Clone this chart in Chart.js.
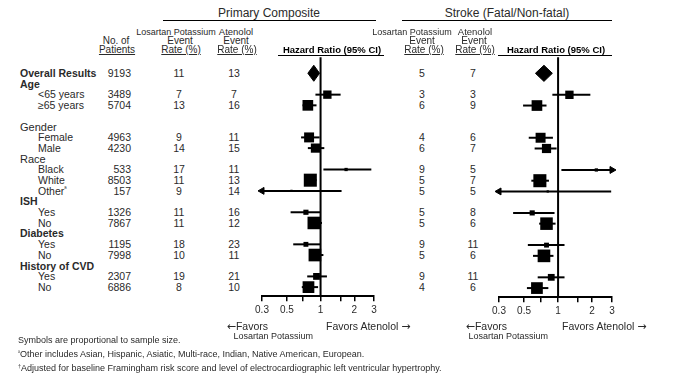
<!DOCTYPE html>
<html><head><meta charset="utf-8">
<script src="https://cdn.jsdelivr.net/npm/chart.js@4.4.1/dist/chart.umd.min.js"></script>
<style>
html,body{margin:0;padding:0;background:#fff;}
#page{position:relative;width:676px;height:387px;overflow:hidden;font-family:"Liberation Sans",Arial,sans-serif;color:#2a2a2a;background:#fff;}
.t{position:absolute;white-space:nowrap;line-height:1;}
.c{transform:translate(-50%,-50%);}
.l{transform:translate(0,-50%);}
.r{transform:translate(-100%,-50%);}
.u{text-decoration:underline;text-underline-offset:1px;}
.rule{position:absolute;height:0;border-top:1.5px solid #000;}
.arr{font-family:"DejaVu Sans",sans-serif;font-size:11px;}
sup{font-size:60%;vertical-align:top;line-height:1;}
</style></head><body><div id="page"></div>
<script>
// ---------------- DATA ----------------
const categories = ["Overall Results","Age","<65 years","≥65 years","","Gender","Female","Male","Race","Black","White","Other","ISH","Yes","No","Diabetes","Yes","No","History of CVD","Yes","No"];
const labelNotes = ["","","","","","","","","","","","ª","","","","","","","","",""];
const headingLevel = [2,2,0,0,0,1,0,0,1,0,0,0,2,0,0,2,0,0,2,0,0];
const patients   = [9193,null,3489,5704,null,null,4963,4230,null,533,8503,157,null,1326,7867,null,1195,7998,null,2307,6886];

const pcLosartan = [11,null,7,13,null,null,9,14,null,17,11,9,null,11,11,null,18,10,null,19,8];
const pcAtenolol = [13,null,7,16,null,null,11,15,null,11,13,14,null,16,12,null,23,11,null,21,10];
const pcHR   = [0.87,null,1.15,0.77,null,null,0.79,0.90,null,1.69,0.81,0.55,null,0.74,0.87,null,0.74,0.89,null,0.92,0.78];
const pcLow  = [0.77,null,0.90,0.69,null,null,0.67,0.77,null,1.06,0.72,0.25,null,0.54,0.78,null,0.57,0.79,null,0.76,0.68];
const pcHigh = [0.98,null,1.51,0.92,null,null,0.98,1.08,null,2.84,0.92,1.54,null,0.99,1.03,null,0.99,1.06,null,1.14,0.95];

const stLosartan = [5,null,3,6,null,null,4,6,null,9,5,5,null,5,5,null,9,5,null,9,4];
const stAtenolol = [7,null,3,9,null,null,6,7,null,5,7,5,null,8,6,null,11,6,null,11,6];
const stHR   = [0.75,null,1.26,0.65,null,null,0.70,0.79,null,2.18,0.69,0.81,null,0.59,0.79,null,0.79,0.75,null,0.87,0.65];
const stLow  = [0.63,null,0.89,0.49,null,null,0.55,0.62,null,1.07,0.58,0.25,null,0.40,0.68,null,0.54,0.60,null,0.66,0.53];
const stHigh = [0.89,null,1.93,0.79,null,null,0.90,0.97,null,3.60,0.83,2.95,null,0.93,0.95,null,1.14,0.91,null,1.14,0.82];

const summaryRow = 0;
const tickValues = [0.3,0.5,0.7,1,1.5,2,3];
const tickLabels = ["0.3","0.5","","1","","2","3"];

// ---------------- LAYOUT ----------------
const X_MIN = 0.3, X_MAX = 3, Y_MIN = -1.5, Y_MAX = 20.85;
const DIAMOND_H = 0.75, SIZE_K = 0.1;
const FONT = '"Liberation Sans", Arial, sans-serif';
const page = document.getElementById('page');

function txt(x, y, html, cls, style) {
  const d = document.createElement('div');
  d.className = 't ' + (cls || 'l');
  d.style.left = x + 'px'; d.style.top = y + 'px';
  if (style) d.style.cssText += style;
  d.innerHTML = html;
  page.appendChild(d);
  return d;
}
function rule(x1, x2, y) {
  const d = document.createElement('div');
  d.className = 'rule';
  d.style.left = x1 + 'px'; d.style.width = (x2 - x1) + 'px'; d.style.top = y + 'px';
  page.appendChild(d);
}

function forestConfig(hr, lo, hi) {
  const datasets = [];
  datasets.push({type:'line', data:[{x:1,y:Y_MIN},{x:1,y:Y_MAX}], borderColor:'#000', borderWidth:2, pointRadius:0, order:3, clip:false});
  hr.forEach((v, i) => {
    if (v == null) return;
    if (i === summaryRow) {
      datasets.push({type:'line', data:[{x:lo[i],y:i},{x:v,y:i-DIAMOND_H},{x:hi[i],y:i},{x:v,y:i+DIAMOND_H},{x:lo[i],y:i}],
        borderColor:'#000', borderWidth:1, backgroundColor:'#000', fill:'shape', pointRadius:0, tension:0, order:0, clip:false});
      return;
    }
    const a = Math.max(lo[i], X_MIN), b = Math.min(hi[i], X_MAX);
    datasets.push({type:'line', data:[{x:a,y:i},{x:b,y:i}], borderColor:'#000', borderWidth:2,
      pointStyle:'triangle', pointRadius:[lo[i] < X_MIN ? 4 : 0, hi[i] > X_MAX ? 4 : 0], pointRotation:[-90, 90],
      pointBackgroundColor:'#000', pointBorderColor:'#000', pointBorderWidth:1, order:1, clip:false});
  });
  const sq = [];
  hr.forEach((v, i) => { if (v != null && i !== summaryRow) sq.push({x:v, y:i, n:patients[i]}); });
  datasets.push({type:'scatter', data:sq, pointStyle:'rect', backgroundColor:'#000', borderWidth:0,
    pointRadius: c => Math.max(1.6, SIZE_K * Math.sqrt(c.raw.n)), order:0, clip:false});
  return {
    type:'scatter',
    data:{datasets},
    options:{
      responsive:false, maintainAspectRatio:false, animation:false, events:[],
      plugins:{legend:{display:false}, tooltip:{enabled:false}},
      layout:{padding:{left:16, right:16, top:8, bottom:0}},
      scales:{
        x:{type:'logarithmic', min:X_MIN, max:X_MAX,
          afterBuildTicks: s => { s.ticks = tickValues.map(v => ({value:v})); },
          afterFit: s => { s.height = 26; },
          ticks:{autoSkip:false, maxRotation:0, padding:3, color:'#2a2a2a', font:{family:FONT, size:10},
            callback: (v, idx) => tickLabels[idx]},
          grid:{drawOnChartArea:false, drawTicks:true, tickLength:5, color:'#000', lineWidth:1.5},
          border:{display:true, color:'#000', width:2}},
        y:{type:'linear', min:Y_MIN, max:Y_MAX, reverse:true, display:false}
      }
    }
  };
}

function mountForest(area, hr, lo, hi) {
  const wrap = document.createElement('div');
  wrap.style.position = 'absolute';
  const cv = document.createElement('canvas');
  const w = area.right - area.left + 32, h = area.bottom - area.top + 8 + 26;
  cv.width = w; cv.height = h; cv.style.width = w + 'px'; cv.style.height = h + 'px';
  wrap.appendChild(cv); page.appendChild(wrap);
  const chart = new Chart(cv, forestConfig(hr, lo, hi));
  let ca = chart.chartArea;
  const dw = (area.right - area.left) - (ca.right - ca.left);
  const dh = (area.bottom - area.top) - (ca.bottom - ca.top);
  if (Math.abs(dw) > 0.5 || Math.abs(dh) > 0.5) {
    chart.resize(w + dw, h + dh);
    ca = chart.chartArea;
  }
  wrap.style.left = (area.left - ca.left) + 'px';
  wrap.style.top = (area.top - ca.top) + 'px';
  return {chart, offTop: area.top - ca.top};
}

const leftPlot = mountForest({left:262, right:374, top:57, bottom:296}, pcHR, pcLow, pcHigh);
const rightPlot = mountForest({left:499, right:612, top:57, bottom:297}, stHR, stLow, stHigh);

// ---------------- TEXT ----------------
const rowY = i => leftPlot.offTop + leftPlot.chart.scales.y.getPixelForValue(i);
const F = 'font-size:10.5px;';
categories.forEach((c, i) => {
  const y = rowY(i);
  if (c) {
    const lvl = headingLevel[i];
    const note = labelNotes[i] ? '<sup>' + labelNotes[i] + '</sup>' : '';
    if (lvl === 2) txt(20, y, c + note, 'l', 'font-size:10.5px;font-weight:bold;');
    else if (lvl === 1) txt(20, y, c + note, 'l', 'font-size:11px;');
    else txt(38, y, c + note, 'l', F);
  }
  if (patients[i] != null) txt(131, y, String(patients[i]), 'r', F);
  if (pcLosartan[i] != null) txt(179, y, String(pcLosartan[i]), 'c', F);
  if (pcAtenolol[i] != null) txt(234, y, String(pcAtenolol[i]), 'c', F);
  if (stLosartan[i] != null) txt(422, y, String(stLosartan[i]), 'c', F);
  if (stAtenolol[i] != null) txt(473, y, String(stAtenolol[i]), 'c', F);
});

// headers
txt(269, 13, 'Primary Composite', 'c', 'font-size:12px;');
rule(163, 376, 20);
txt(507, 13, 'Stroke (Fatal/Non-fatal)', 'c', 'font-size:12px;');
rule(402, 612, 20);

txt(116, 41, 'No. of', 'c', 'font-size:10px;');
txt(117, 50, 'Patients', 'c u', 'font-size:10px;');
txt(176, 32, 'Losartan Potassium', 'c', 'font-size:9px;');
txt(180, 41, 'Event', 'c', 'font-size:10px;');
txt(181, 50, 'Rate (%)', 'c u', 'font-size:10px;');
txt(236, 32, 'Atenolol', 'c', 'font-size:9.5px;');
txt(236, 41, 'Event', 'c', 'font-size:10px;');
txt(237, 50, 'Rate (%)', 'c u', 'font-size:10px;');
txt(332, 50, 'Hazard Ratio (95% CI)', 'c', 'font-size:9.5px;font-weight:bold;color:#000;');
rule(278, 384, 55);

txt(412, 32, 'Losartan Potassium', 'c', 'font-size:9px;');
txt(422, 41, 'Event', 'c', 'font-size:10px;');
txt(424, 50, 'Rate (%)', 'c u', 'font-size:10px;');
txt(475, 32, 'Atenolol', 'c', 'font-size:9.5px;');
txt(474, 41, 'Event', 'c', 'font-size:10px;');
txt(475, 50, 'Rate (%)', 'c u', 'font-size:10px;');
txt(556, 50, 'Hazard Ratio (95% CI)', 'c', 'font-size:9.5px;font-weight:bold;color:#000;');
rule(498, 612, 55);

// favors
txt(268, 326, '<span class="arr">←</span>Favors', 'r', 'font-size:10.5px;');
txt(313, 336, 'Losartan Potassium', 'r', 'font-size:9px;');
txt(326, 326, 'Favors Atenolol <span class="arr">→</span>', 'l', 'font-size:10.5px;');
txt(507, 326, '<span class="arr">←</span>Favors', 'r', 'font-size:10.5px;');
txt(548, 336, 'Losartan Potassium', 'r', 'font-size:9px;');
txt(562, 326, 'Favors Atenolol <span class="arr">→</span>', 'l', 'font-size:10.5px;');

// footnotes
txt(18, 340, 'Symbols are proportional to sample size.', 'l', 'font-size:9px;');
txt(18, 354, '<sup>ª</sup>Other includes Asian, Hispanic, Asiatic, Multi-race, Indian, Native American, European.', 'l', 'font-size:9px;');
txt(18, 368, '<sup>†</sup>Adjusted for baseline Framingham risk score and level of electrocardiographic left ventricular hypertrophy.', 'l', 'font-size:9px;');
</script></body></html>
